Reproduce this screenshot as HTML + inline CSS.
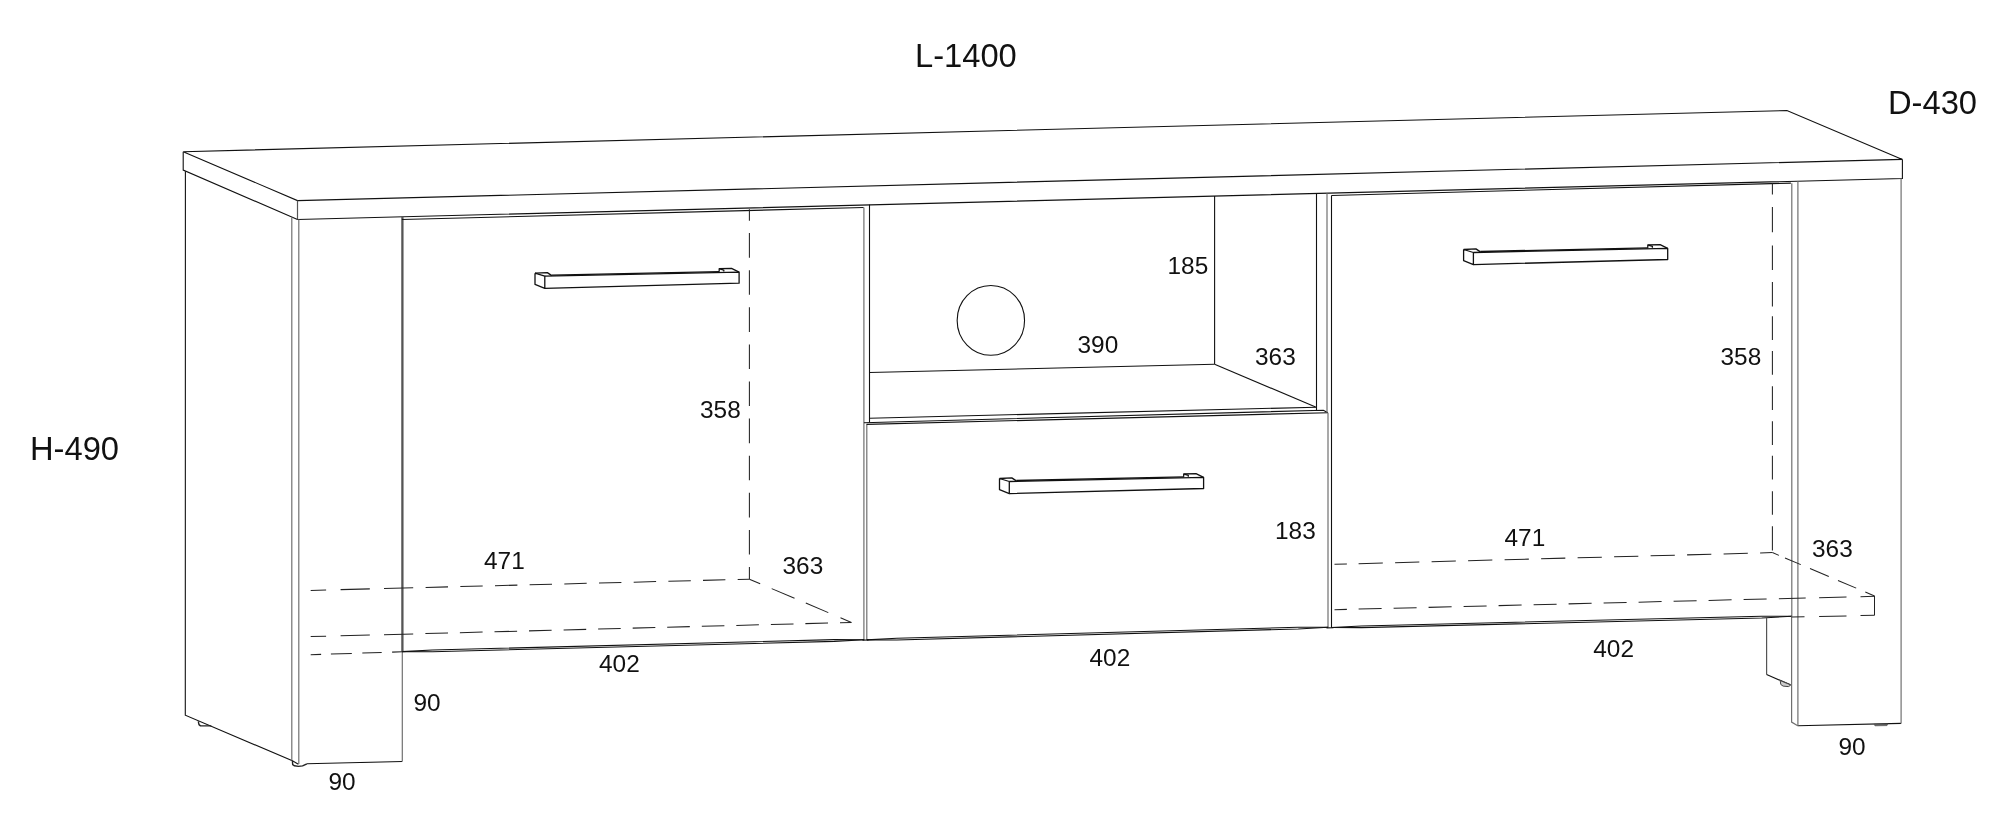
<!DOCTYPE html>
<html><head><meta charset="utf-8"><title>TV cabinet dimensions</title>
<style>
html,body{margin:0;padding:0;background:#fff;}
body{width:2010px;height:822px;overflow:hidden;}
svg{display:block;}
.k{stroke:#111;stroke-width:1.1;fill:none;}
.g{stroke:#707070;stroke-width:1.2;fill:none;}
.g2{stroke:#555;stroke-width:1.2;fill:none;}
.dl{stroke:#555;stroke-width:2.3;fill:none;}
.f{stroke:#222;stroke-width:1.4;fill:none;stroke-linejoin:round;}
.h{stroke:#111;stroke-width:1.3;fill:none;stroke-linejoin:round;}
.da{stroke:#222;stroke-width:1.05;fill:none;}
text{font-family:"Liberation Sans",sans-serif;fill:#111;}
</style></head><body>
<svg width="2010" height="822" viewBox="0 0 2010 822">
<rect width="2010" height="822" fill="#fff"/>
<polyline class="k" points="183.2,151.7 1786.9,110.5 1902.4,159.4 297.5,200.6 183.2,151.7"/>
<line class="g2" x1="297.5" y1="200.6" x2="297.5" y2="219.5"/>
<polyline class="k" points="297.5,219.5 1902.4,178.5 1902.4,159.4"/>
<polyline class="k" points="183.2,151.7 183.2,170.1 297.5,219.5"/>
<polyline class="k" points="185.4,171.2 185.3,715.2 292.4,760.8 298.4,764.2"/>
<line class="g" x1="291.8" y1="217.2" x2="291.8" y2="760.6"/>
<line class="g" x1="298.8" y1="219.5" x2="298.8" y2="764.0"/>
<line class="k" x1="306.9" y1="763.8" x2="402.2" y2="761.5"/>
<line class="g" x1="402.3" y1="651.6" x2="402.3" y2="761.5"/>
<polyline class="f" points="198.3,721.4 199.0,724.6 200.5,725.9 211.3,725.9"/>
<polyline class="f" points="292.4,760.8 292.7,764.6 294.5,765.8 298.4,766.4 302.6,765.9 306.9,763.8"/>
<line class="dl" x1="402.4" y1="217.0" x2="402.4" y2="651.6"/>
<line class="k" x1="401.9" y1="219.5" x2="863.6" y2="207.5"/>
<line class="g" x1="863.9" y1="207.5" x2="863.9" y2="639.7"/>
<polyline class="k" points="402.3,651.6 432.3,650.03 834.2,639.67 864.2,639.7"/>
<polyline class="k" points="402.3,651.6 432.3,651.73 834.2,641.37 864.2,639.7"/>
<line class="g" x1="866.8" y1="424.4" x2="866.8" y2="639.9"/>
<polyline class="k" points="869.5,204.6 869.5,422.4"/>
<line class="k" x1="869.5" y1="418.2" x2="1316.4" y2="407.2"/>
<line class="k" x1="869.5" y1="372.5" x2="1214.6" y2="364.3"/>
<line class="k" x1="1214.6" y1="196.0" x2="1214.6" y2="364.3"/>
<line class="k" x1="1214.6" y1="364.3" x2="1315.6" y2="407.0"/>
<line class="k" x1="1316.5" y1="193.6" x2="1316.5" y2="410.4"/>
<polyline class="k" points="863.9,422.7 1323.4,410.2 1327.9,412.7"/>
<line class="k" x1="866.5" y1="424.4" x2="1327.9" y2="412.7"/>
<line class="g" x1="1327.0" y1="193.3" x2="1327.0" y2="412.7"/>
<line class="g" x1="1328.0" y1="412.7" x2="1328.0" y2="627.0"/>
<polyline class="k" points="866.8,639.9 896.8,638.27 1298.2,627.23 1328.2,627.2"/>
<polyline class="k" points="866.8,639.9 896.8,639.97 1298.2,628.93 1328.2,627.2"/>
<ellipse class="k" cx="990.85" cy="320.4" rx="33.7" ry="34.9"/>
<line class="k" x1="1326.5" y1="627.9" x2="1333.5" y2="627.7"/>
<line class="k" x1="862.5" y1="640.1" x2="868.5" y2="640.0"/>
<line class="k" x1="1331.5" y1="195.5" x2="1331.5" y2="627.2"/>
<line class="k" x1="1331.5" y1="195.5" x2="1790.9" y2="183.1"/>
<line class="g" x1="1791.8" y1="183.3" x2="1791.8" y2="616.4"/>
<polyline class="k" points="1331.4,627.5 1361.4,625.97 1761.7,616.23 1791.7,616.3"/>
<polyline class="k" points="1331.4,627.5 1361.4,627.67 1761.7,617.93 1791.7,616.3"/>
<polyline class="g" points="1791.6,616.4 1791.6,722.1 1797.7,725.8"/>
<line class="k" x1="1797.7" y1="725.8" x2="1901.1" y2="723.4"/>
<line class="g" x1="1901.1" y1="723.4" x2="1901.1" y2="178.7"/>
<line class="g" x1="1797.9" y1="181.3" x2="1797.9" y2="725.8"/>
<line class="g2" x1="1766.6" y1="617.7" x2="1766.6" y2="674.6"/>
<line class="k" x1="1766.6" y1="674.6" x2="1790.6" y2="684.8"/>
<path d="M1780.2 680.6 L1780.8 684.5 L1783.1 686.1 L1788.4 686.6 L1790.4 685.4 L1790.4 684.8 Z" fill="#ccc" stroke="#444" stroke-width="1"/>
<path d="M1874 724.2 L1875 725.8 L1887 725.6 L1887.8 724 Z" fill="#555" stroke="#555" stroke-width="0.7"/>
<line class="da" x1="310.7" y1="590.4" x2="326.1" y2="590.01"/>
<line class="da" x1="340.6" y1="589.64" x2="369.8" y2="588.89"/>
<line class="da" x1="384" y1="588.53" x2="413.2" y2="587.78"/>
<line class="da" x1="425.6" y1="587.47" x2="448.0" y2="586.89"/>
<line class="da" x1="460.3" y1="586.58" x2="482.7" y2="586.01"/>
<line class="da" x1="495.0" y1="585.69" x2="517.4" y2="585.12"/>
<line class="da" x1="529.6" y1="584.81" x2="552.0" y2="584.24"/>
<line class="da" x1="564.3" y1="583.93" x2="586.7" y2="583.35"/>
<line class="da" x1="599.0" y1="583.04" x2="621.4" y2="582.47"/>
<line class="da" x1="633.7" y1="582.15" x2="656.1" y2="581.58"/>
<line class="da" x1="668.4" y1="581.27" x2="690.8" y2="580.7"/>
<line class="da" x1="703.0" y1="580.38" x2="725.4" y2="579.81"/>
<line class="da" x1="737.7" y1="579.5" x2="749.4" y2="579.2"/>
<line class="da" x1="310.7" y1="636.6" x2="326.1" y2="636.2"/>
<line class="da" x1="340.6" y1="635.81" x2="369.8" y2="635.05"/>
<line class="da" x1="384" y1="634.67" x2="413.2" y2="633.91"/>
<line class="da" x1="425.4" y1="633.59" x2="448.0" y2="632.99"/>
<line class="da" x1="459.9" y1="632.68" x2="482.6" y2="632.09"/>
<line class="da" x1="494.5" y1="631.77" x2="517.1" y2="631.18"/>
<line class="da" x1="529.0" y1="630.87" x2="551.6" y2="630.27"/>
<line class="da" x1="563.6" y1="629.96" x2="586.2" y2="629.36"/>
<line class="da" x1="598.1" y1="629.05" x2="620.7" y2="628.46"/>
<line class="da" x1="632.7" y1="628.14" x2="655.3" y2="627.55"/>
<line class="da" x1="667.2" y1="627.24" x2="689.8" y2="626.64"/>
<line class="da" x1="701.8" y1="626.33" x2="724.4" y2="625.74"/>
<line class="da" x1="736.3" y1="625.42" x2="758.9" y2="624.83"/>
<line class="da" x1="770.9" y1="624.51" x2="793.5" y2="623.92"/>
<line class="da" x1="805.4" y1="623.61" x2="828.0" y2="623.01"/>
<line class="da" x1="840.0" y1="622.7" x2="851.4" y2="622.4"/>
<line class="da" x1="749.4" y1="579.2" x2="760.2" y2="583.77"/>
<line class="da" x1="771.7" y1="588.64" x2="794.5" y2="598.3"/>
<line class="da" x1="805.8" y1="603.09" x2="828.3" y2="612.62"/>
<line class="da" x1="840.5" y1="617.78" x2="851.4" y2="622.4"/>
<line class="da" x1="310.7" y1="654.7" x2="321.1" y2="654.37"/>
<line class="da" x1="330.9" y1="654.06" x2="351.8" y2="653.4"/>
<line class="da" x1="362.3" y1="653.07" x2="381.7" y2="652.45"/>
<line class="da" x1="392.1" y1="652.12" x2="402.3" y2="651.8"/>
<line class="da" x1="749.4" y1="209.3" x2="749.4" y2="220.7"/>
<line class="da" x1="749.4" y1="233.1" x2="749.4" y2="257.7"/>
<line class="da" x1="749.4" y1="270.2" x2="749.4" y2="294.8"/>
<line class="da" x1="749.4" y1="307.3" x2="749.4" y2="331.9"/>
<line class="da" x1="749.4" y1="344.4" x2="749.4" y2="369.0"/>
<line class="da" x1="749.4" y1="381.5" x2="749.4" y2="406.1"/>
<line class="da" x1="749.4" y1="418.6" x2="749.4" y2="443.2"/>
<line class="da" x1="749.4" y1="455.7" x2="749.4" y2="480.3"/>
<line class="da" x1="749.4" y1="492.8" x2="749.4" y2="517.4"/>
<line class="da" x1="749.4" y1="529.9" x2="749.4" y2="554.5"/>
<line class="da" x1="749.4" y1="567.0" x2="749.4" y2="579.2"/>
<line class="da" x1="1334.5" y1="564.3" x2="1346.9" y2="563.97"/>
<line class="da" x1="1358.6" y1="563.66" x2="1382.8" y2="563.01"/>
<line class="da" x1="1395.1" y1="562.68" x2="1419.3" y2="562.03"/>
<line class="da" x1="1431.6" y1="561.71" x2="1455.8" y2="561.06"/>
<line class="da" x1="1468.1" y1="560.73" x2="1492.3" y2="560.08"/>
<line class="da" x1="1504.6" y1="559.76" x2="1528.8" y2="559.11"/>
<line class="da" x1="1541.1" y1="558.78" x2="1565.3" y2="558.13"/>
<line class="da" x1="1577.6" y1="557.8" x2="1601.8" y2="557.16"/>
<line class="da" x1="1614.1" y1="556.83" x2="1638.3" y2="556.18"/>
<line class="da" x1="1650.6" y1="555.85" x2="1674.8" y2="555.21"/>
<line class="da" x1="1687.1" y1="554.88" x2="1711.3" y2="554.23"/>
<line class="da" x1="1723.6" y1="553.9" x2="1747.8" y2="553.26"/>
<line class="da" x1="1760.1" y1="552.93" x2="1772.4" y2="552.6"/>
<line class="da" x1="1334.5" y1="609.7" x2="1346.9" y2="609.39"/>
<line class="da" x1="1358.6" y1="609.1" x2="1381.6" y2="608.53"/>
<line class="da" x1="1393.6" y1="608.23" x2="1416.6" y2="607.66"/>
<line class="da" x1="1428.6" y1="607.36" x2="1451.6" y2="606.79"/>
<line class="da" x1="1463.6" y1="606.5" x2="1486.6" y2="605.93"/>
<line class="da" x1="1498.6" y1="605.63" x2="1521.6" y2="605.06"/>
<line class="da" x1="1533.6" y1="604.76" x2="1556.6" y2="604.19"/>
<line class="da" x1="1568.6" y1="603.89" x2="1591.6" y2="603.32"/>
<line class="da" x1="1603.6" y1="603.02" x2="1626.6" y2="602.45"/>
<line class="da" x1="1638.6" y1="602.15" x2="1661.6" y2="601.58"/>
<line class="da" x1="1673.6" y1="601.29" x2="1696.6" y2="600.71"/>
<line class="da" x1="1708.6" y1="600.42" x2="1731.6" y2="599.85"/>
<line class="da" x1="1743.6" y1="599.55" x2="1766.6" y2="598.98"/>
<line class="da" x1="1778.9" y1="598.67" x2="1805.7" y2="598.01"/>
<line class="da" x1="1819.1" y1="597.67" x2="1846.5" y2="596.99"/>
<line class="da" x1="1860.5" y1="596.65" x2="1874.5" y2="596.3"/>
<line class="da" x1="1772.4" y1="552.6" x2="1778.9" y2="555.36"/>
<line class="da" x1="1785" y1="557.94" x2="1800.8" y2="564.64"/>
<line class="da" x1="1810" y1="568.55" x2="1828.8" y2="576.52"/>
<line class="da" x1="1838" y1="580.42" x2="1856.2" y2="588.14"/>
<line class="da" x1="1865.3" y1="592.0" x2="1874.5" y2="595.9"/>
<line class="da" x1="1874.5" y1="595.9" x2="1874.5" y2="615.3"/>
<line class="da" x1="1791.7" y1="617.1" x2="1804.5" y2="616.82"/>
<line class="da" x1="1819.1" y1="616.5" x2="1846.5" y2="615.91"/>
<line class="da" x1="1860.5" y1="615.6" x2="1874.5" y2="615.3"/>
<line class="da" x1="1772.4" y1="183.2" x2="1772.4" y2="194.4"/>
<line class="da" x1="1772.4" y1="206.9" x2="1772.4" y2="232.2"/>
<line class="da" x1="1772.4" y1="245.4" x2="1772.4" y2="270.0"/>
<line class="da" x1="1772.4" y1="281.9" x2="1772.4" y2="306.5"/>
<line class="da" x1="1772.4" y1="316.2" x2="1772.4" y2="340.0"/>
<line class="da" x1="1772.4" y1="351" x2="1772.4" y2="374.8"/>
<line class="da" x1="1772.4" y1="386.2" x2="1772.4" y2="410"/>
<line class="da" x1="1772.4" y1="421.3" x2="1772.4" y2="445.1"/>
<line class="da" x1="1772.4" y1="455.8" x2="1772.4" y2="479.6"/>
<line class="da" x1="1772.4" y1="491.2" x2="1772.4" y2="514.8"/>
<line class="da" x1="1772.4" y1="526.3" x2="1772.4" y2="550.4"/>
<polyline class="h" points="999.5,478.5 999.5,489.7 1009.3,493.6 1009.3,481.5 999.5,478.5"/>
<polyline class="h" points="1009.3,493.6 1203.6,488.5 1203.6,477.4 1009.3,481.5"/>
<polyline class="h" points="999.5,478.5 1011.8,477.9 1016.3,480.9"/>
<line class="h" x1="1016.3" y1="480.5" x2="1184" y2="476.9"/>
<polyline class="h" points="1183.7,476.8 1183.7,474.0 1196,473.7 1203.6,477.4"/>
<polyline class="h" points="1184.2,474.2 1188.3,475.4 1188.3,476.8"/>
<polyline class="h" points="535.0,273.2 535.0,284.4 544.8,288.3 544.8,276.2 535.0,273.2"/>
<polyline class="h" points="544.8,288.3 739.1,283.2 739.1,272.1 544.8,276.2"/>
<polyline class="h" points="535.0,273.2 547.3,272.6 551.8,275.6"/>
<line class="h" x1="551.8" y1="275.2" x2="719.5" y2="271.6"/>
<polyline class="h" points="719.2,271.5 719.2,268.7 731.5,268.4 739.1,272.1"/>
<polyline class="h" points="719.7,268.9 723.8,270.1 723.8,271.5"/>
<polyline class="h" points="1463.6,249.5 1463.6,260.7 1473.4,264.6 1473.4,252.5 1463.6,249.5"/>
<polyline class="h" points="1473.4,264.6 1667.7,259.5 1667.7,248.4 1473.4,252.5"/>
<polyline class="h" points="1463.6,249.5 1475.9,248.9 1480.4,251.9"/>
<line class="h" x1="1480.4" y1="251.5" x2="1648.1" y2="247.9"/>
<polyline class="h" points="1647.8,247.8 1647.8,245.0 1660.1,244.7 1667.7,248.4"/>
<polyline class="h" points="1648.3,245.2 1652.4,246.4 1652.4,247.8"/>
<g style="will-change:transform">
<text x="915" y="67" font-size="32.7">L-1400</text>
<text x="1888" y="114" font-size="32.7">D-430</text>
<text x="30" y="459.6" font-size="32.7">H-490</text>
<text x="484" y="568.6" font-size="24.4">471</text>
<text x="782.5" y="574.4" font-size="24.4">363</text>
<text x="599" y="672.1" font-size="24.4">402</text>
<text x="413.5" y="710.8" font-size="24.4">90</text>
<text x="328.5" y="790" font-size="24.4">90</text>
<text x="700" y="417.8" font-size="24.4">358</text>
<text x="1167.5" y="273.5" font-size="24.4">185</text>
<text x="1077.5" y="352.8" font-size="24.4">390</text>
<text x="1255" y="365" font-size="24.4">363</text>
<text x="1275" y="539" font-size="24.4">183</text>
<text x="1089.5" y="666.2" font-size="24.4">402</text>
<text x="1504.5" y="545.7" font-size="24.4">471</text>
<text x="1812" y="557.2" font-size="24.4">363</text>
<text x="1593.3" y="657.2" font-size="24.4">402</text>
<text x="1838.5" y="755" font-size="24.4">90</text>
<text x="1720.5" y="365.3" font-size="24.4">358</text>
</g>
</svg>
</body></html>
